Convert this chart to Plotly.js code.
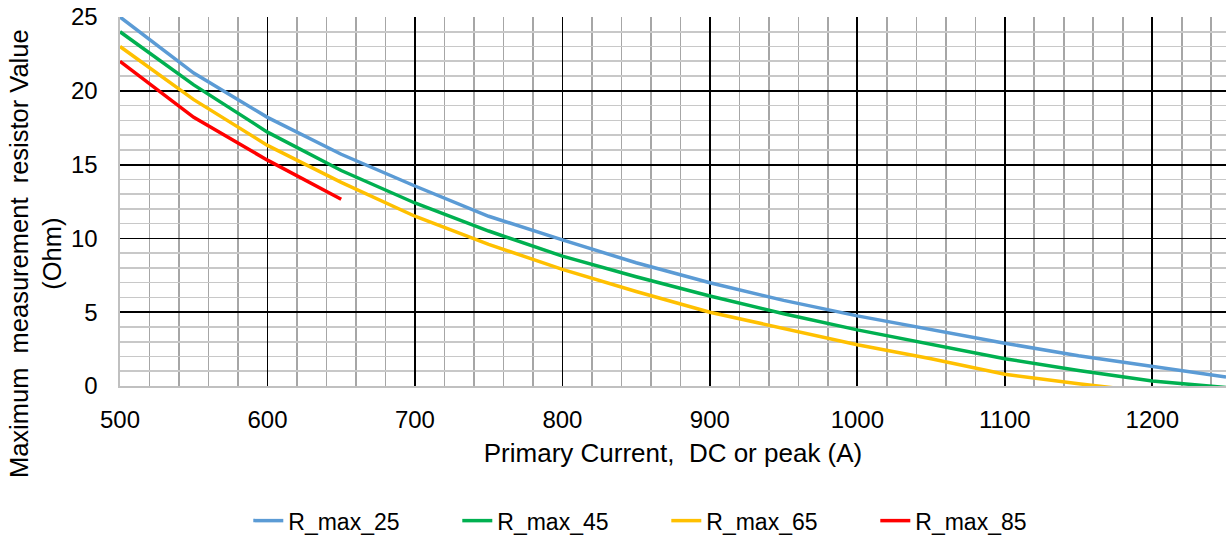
<!DOCTYPE html>
<html><head><meta charset="utf-8">
<script src="https://cdn.plot.ly/plotly-3.0.1.min.js"></script>
<style>html,body{margin:0;padding:0;background:#fff}#chart{width:1226px;height:539px}</style>
</head><body><div id="chart"></div>
<script>
const current = [500, 550, 600, 650, 700, 750, 800, 850, 900, 950, 1000, 1050, 1100, 1150, 1200, 1250];
const rMax25 = [25, 21.2, 18.2, 15.7, 13.55, 11.5, 9.9, 8.35, 7.0, 5.8, 4.75, 3.8, 2.9, 2.05, 1.3, 0.6];
const rMax45 = [24, 20.4, 17.2, 14.6, 12.4, 10.5, 8.8, 7.4, 6.1, 4.9, 3.8, 2.8, 1.85, 1.05, 0.34, -0.11];
const rMax65 = [23, 19.4, 16.3, 13.8, 11.5, 9.6, 7.9, 6.4, 5.0, 3.9, 2.8, 1.85, 0.8, 0.15, -0.4, -1.0];
const current85 = [500, 550, 600, 650];
const rMax85 = [22, 18.2, 15.3, 12.65];
const names = ['R_max_25', 'R_max_45', 'R_max_65', 'R_max_85'];
const colors = ['#5b9bd5', '#00b050', '#ffc000', '#ff0000'];
const xTitle = 'Primary Current,\u00a0 DC or peak (A)';
const yTitle = 'Maximum\u00a0 measurement\u00a0 resistor Value<br>(Ohm)';

const xs = [current, current, current, current85];
const ys = [rMax25, rMax45, rMax65, rMax85];
const traces = ys.map((y, i) => ({
  x: xs[i], y: y, name: names[i], type: 'scatter', mode: 'lines',
  line: {color: colors[i], width: 3.5}
}));

const fam = 'Liberation Sans, Arial, sans-serif';
const layout = {
  width: 1226, height: 539,
  margin: {l: 120, r: 0, t: 17, b: 153},
  paper_bgcolor: '#fff', plot_bgcolor: '#fff',
  font: {family: fam, size: 23, color: '#000'},
  showlegend: true,
  legend: {orientation: 'h', x: 0.116, xanchor: 'left', yref: 'container', y: 0.034, yanchor: 'middle',
           font: {family: fam, size: 23, color: '#000'}, entrywidth: 164, itemwidth: 30},
  xaxis: {
    range: [500, 1250], dtick: 100, tick0: 500,
    showgrid: true, gridcolor: '#000', gridwidth: 1.8,
    minor: {dtick: 20, showgrid: true, gridcolor: '#a6a6a6', gridwidth: 1.6},
    zeroline: false, showline: true, linecolor: '#c0c0c0', linewidth: 1.6,
    ticks: '', ticklabelstandoff: 12,
    tickfont: {family: fam, size: 24, color: '#000'},
    title: {text: xTitle, font: {family: fam, size: 26, color: '#000'}, standoff: 11},
    fixedrange: true
  },
  yaxis: {
    range: [0, 25], dtick: 5,
    showgrid: true, gridcolor: '#000', gridwidth: 1.8,
    minor: {dtick: 1, showgrid: true, gridcolor: '#c8c8c8', gridwidth: 1.6},
    zeroline: false, showline: true, linecolor: '#c0c0c0', linewidth: 1.6,
    ticks: '', ticklabelstandoff: 16,
    tickfont: {family: fam, size: 24, color: '#000'},
    fixedrange: true
  },
  annotations: [{
    text: yTitle, textangle: -90, showarrow: false,
    xref: 'paper', yref: 'paper', x: -0.0769, y: 0.36,
    xanchor: 'center', yanchor: 'middle',
    font: {family: fam, size: 25.5, color: '#000'}
  }]
};
Plotly.newPlot('chart', traces, layout, {displayModeBar: false, staticPlot: true});
</script></body></html>
